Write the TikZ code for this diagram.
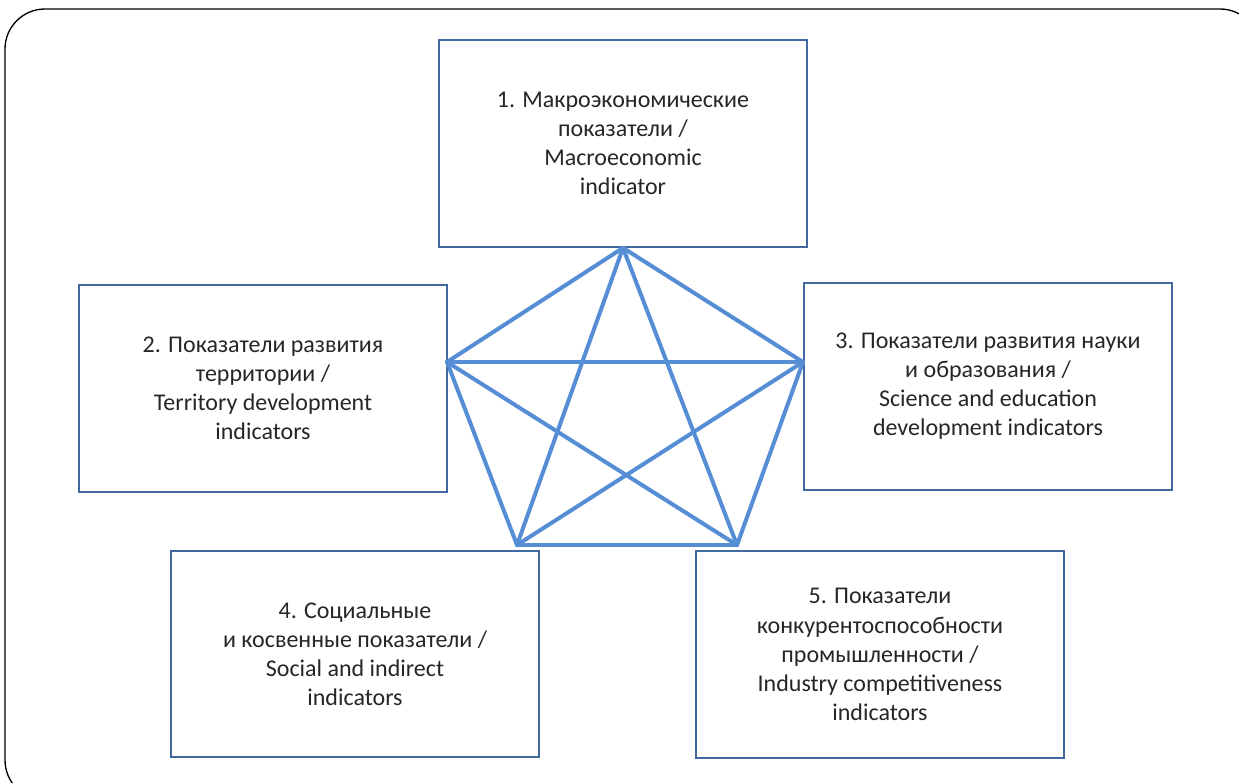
\documentclass[tikz,border=0pt]{standalone}
\usepackage{fontspec}
\setmainfont{Carlito}
\usepackage{xcolor}
\definecolor{boxblue}{RGB}{65,105,160}
\definecolor{linkblue}{RGB}{85,142,213}
\definecolor{textgray}{RGB}{38,38,38}
\usetikzlibrary{positioning}

\begin{document}
\begin{tikzpicture}[x=0.75pt,y=-0.75pt,
   box/.style={draw=boxblue,line width=1.6pt,minimum width=276pt,minimum height=155pt,
     align=center,text=textgray,font=\fontsize{18}{21.8}\selectfont,inner sep=0pt},
   link/.style={draw=linkblue,line width=3pt,line cap=round,line join=round}]
   \useasboundingbox (0,0) rectangle (1239,782);
   \draw[line width=1pt,rounded corners=30] (5,9) rectangle (1260,800);
   % boxes
   \node[box] (b1) at (623,143.5) {1. Макроэкономические\\показатели /\\Macroeconomic\\indicator};
   \node[box] (b2) at (263,388.5) {2. Показатели развития\\территории /\\Territory development\\indicators};
   \node[box] (b3) at (988,386.5) {3. Показатели развития науки\\и образования /\\Science and education\\development indicators};
   \node[box] (b4) at (355,654) {4. Социальные\\и косвенные показатели /\\Social and indirect\\indicators};
   \node[box] (b5) at (880,654.5) {5. Показатели\\конкурентоспособности\\промышленности /\\Industry competitiveness\\indicators};
   % vertices of the star
   \coordinate (v1) at (b1.south);
   \coordinate (v2) at (447,362);
   \coordinate (v3) at (803,362);
   \coordinate (v4) at (517,545);
   \coordinate (v5) at (737,545);
   \foreach \i/\j in {1/2,1/3,1/4,1/5,2/3,2/4,2/5,3/4,3/5,4/5}
     \draw[link] (v\i) -- (v\j);
\end{tikzpicture}
\end{document}
